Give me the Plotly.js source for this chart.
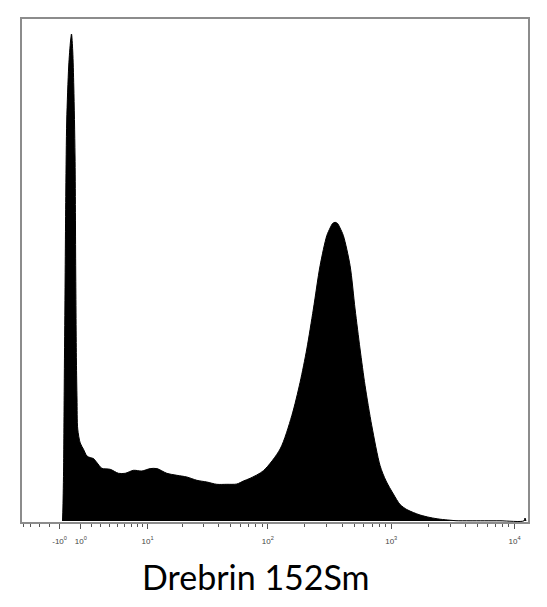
<!DOCTYPE html>
<html>
<head>
<meta charset="utf-8">
<script src="https://cdn.plot.ly/plotly-3.0.1.min.js"></script>
<style>
    html, body { margin: 0; padding: 0; background: #ffffff; }
    #hist { width: 547px; height: 607px; }
</style>
</head>
<body>
<div id="hist"></div>
<script>
// channel positions are arcsinh(value / 5), counts per bin
const channels = [
    -0.144, -0.136, -0.123, -0.112, -0.099, -0.082, -0.065, -0.028, 0.006, 0.024,
    0.047, 0.067, 0.090, 0.103, 0.116, 0.127, 0.140, 0.187, 0.248, 0.312,
    0.373, 0.435, 0.498, 0.591, 0.746, 0.901, 1.026, 1.181, 1.338, 1.493,
    1.618, 1.804, 1.991, 2.177, 2.364, 2.550, 2.737, 2.923, 3.110, 3.233,
    3.358, 3.606, 3.918, 4.136, 4.291, 4.416, 4.539, 4.664, 4.789, 4.851,
    4.897, 4.944, 4.991, 5.037, 5.099, 5.224, 5.317, 5.410, 5.504, 5.629,
    5.784, 5.896, 6.032, 6.157, 6.282, 6.405, 6.530, 6.716, 6.903, 7.090,
    7.201, 7.463, 8.022, 8.470, 8.489, 8.507,
];
const counts = [
    0, 140, 550, 1340, 2150, 3300, 4000, 4550, 4800, 4870,
    4700, 4340, 3650, 2500, 1600, 1220, 920, 780, 717, 650,
    634, 624, 584, 527, 517, 477, 477, 507, 500, 524,
    524, 477, 457, 440, 407, 390, 367, 367, 370, 400,
    427, 503, 720, 1053, 1387, 1720, 2120, 2553, 2853, 2930,
    2975, 2987, 2975, 2930, 2853, 2553, 2120, 1720, 1353, 953,
    553, 400, 270, 165, 115, 85, 60, 35, 18, 8,
    3, 2, 2, 2, 30, 0,
];

const majorValues = [-1, 1, 10, 100, 1000, 10000];
const majorLabels = ['-10<sup>0</sup>', '10<sup>0</sup>', '10<sup>1</sup>', '10<sup>2</sup>', '10<sup>3</sup>', '10<sup>4</sup>'];
const minorValues = [
    -5, -4, -3, -2,
    2, 3, 4, 5, 6, 7, 8, 9,
    20, 30, 40, 50, 60, 70, 80, 90,
    200, 300, 400, 500, 600, 700, 800, 900,
    2000, 3000, 4000, 5000, 6000, 7000, 8000, 9000,
];
const channelTitle = 'Drebrin 152Sm';

const cofactor = 5;
const toChannel = v => Math.asinh(v / cofactor);

const histogram = {
    x: channels,
    y: counts,
    type: 'scatter',
    mode: 'lines',
    fill: 'tozeroy',
    fillcolor: '#000000',
    line: {
        color: '#000000',
        width: 1,
        shape: 'spline',
        smoothing: 0.8,
    },
    hoverinfo: 'none',
};

const layout = {
    showlegend: false,
    width: 547,
    height: 607,
    plot_bgcolor: '#ffffff',
    paper_bgcolor: '#ffffff',
    margin: {
        l: 22,
        r: 19,
        t: 19,
        b: 85,
    },
    xaxis: {
        range: [-0.90, 8.545],
        showgrid: false,
        zeroline: false,
        showline: true,
        mirror: true,
        linecolor: '#8c8c8c',
        linewidth: 2,
        tickmode: 'array',
        tickvals: majorValues.map(toChannel),
        ticktext: majorLabels,
        ticks: 'outside',
        ticklen: 5,
        tickwidth: 1,
        tickcolor: '#555555',
        ticklabelstandoff: 5,
        tickfont: {
            family: 'Liberation Sans',
            size: 8,
            color: '#444444',
        },
        minor: {
            tickmode: 'array',
            tickvals: minorValues.map(toChannel),
            ticks: 'outside',
            ticklen: 3,
            tickwidth: 1,
            tickcolor: '#555555',
            showgrid: false,
        },
    },
    yaxis: {
        range: [-10, 5020],
        showgrid: false,
        zeroline: false,
        showline: true,
        mirror: true,
        linecolor: '#8c8c8c',
        linewidth: 2,
        showticklabels: false,
        ticks: '',
    },
    annotations: [
        {
            text: channelTitle,
            xref: 'paper',
            yref: 'paper',
            x: 0.463,
            y: -0.109,
            xanchor: 'center',
            yanchor: 'middle',
            showarrow: false,
            font: {
                family: 'Lato',
                size: 34,
                color: '#000000',
            },
        },
    ],
};

try {
    Plotly.newPlot('hist', [histogram], layout, {
        displayModeBar: false,
        staticPlot: true,
    });
} catch (e) {
    console.log(e);
}
</script>
</body>
</html>
